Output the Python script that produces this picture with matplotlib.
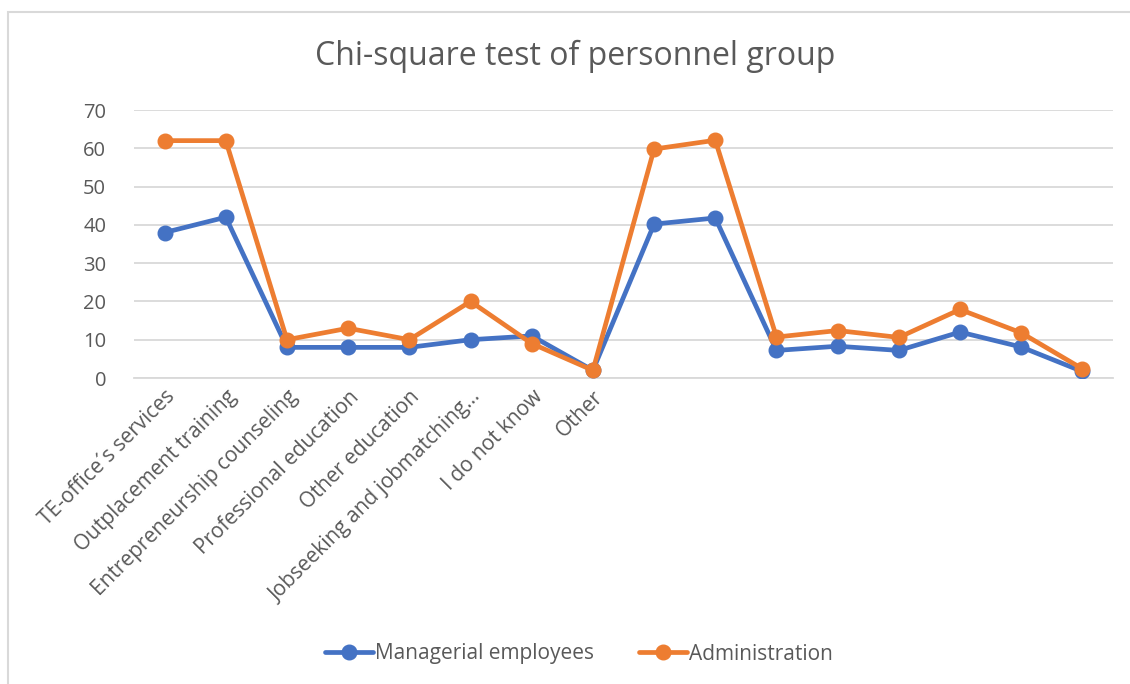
import numpy as np
import matplotlib.pyplot as plt
from matplotlib.patches import Rectangle

# data
categories = ['TE-office\u00b4s services', 'Outplacement training', 'Entrepreneurship counseling',
              'Professional education', 'Other education', 'Jobseeking and jobmatching...',
              'I do not know', 'Other', '', '', '', '', '', '', '', '']
managerial = [38, 42, 8, 8, 8, 10, 11, 2, 40.2, 41.8, 7.2, 8.3, 7.2, 12, 8.1, 1.7]
administration = [62, 62, 10, 13, 10, 20, 9, 2, 59.8, 62.1, 10.7, 12.4, 10.6, 17.9, 11.8, 2.4]
yticks = [0, 10, 20, 30, 40, 50, 60, 70]

blue = '#4472C4'
orange = '#ED7D31'
grey_txt = '#595959'
plt.rcParams['font.family'] = ['Open Sans', 'DejaVu Sans']

W, H = 1130, 684
fig = plt.figure(figsize=(W / 100, H / 100), dpi=100)

# outer chart border (partly cut off at right/bottom)
fig.add_artist(Rectangle((8 / W, -0.1), 1.2, 1 - 12 / H + 0.1, transform=fig.transFigure,
                         fill=False, edgecolor='#D9D9D9', linewidth=1.5))

ax = fig.add_axes([134 / W, (H - 378) / H, (1113 - 134) / W, (378 - 110) / H])
x = np.arange(len(categories))
ax.plot(x, managerial, color=blue, lw=3.4, marker='o', ms=10.5, label='Managerial employees',
        solid_capstyle='round', solid_joinstyle='round', zorder=3)
ax.plot(x, administration, color=orange, lw=3.4, marker='o', ms=10.5, label='Administration',
        solid_capstyle='round', solid_joinstyle='round', zorder=4)

ax.set_xlim(-0.5, len(categories) - 0.5)
ax.set_ylim(0, 70)
ax.set_yticks(yticks)
ax.set_yticklabels([str(v) for v in yticks], fontsize=14.5, color=grey_txt)
ax.yaxis.grid(True, color='#D9D9D9', lw=1.3)
ax.set_axisbelow(True)
ax.tick_params(axis='both', length=0)
ax.tick_params(axis='y', pad=20)
for s in ['top', 'right', 'left']:
    ax.spines[s].set_visible(False)
ax.spines['bottom'].set_color('#D9D9D9')
ax.spines['bottom'].set_linewidth(1.3)

ax.set_xticks(x)
ax.set_xticklabels(categories, rotation=45, ha='right', va='top', rotation_mode='anchor',
                   fontsize=15, color=grey_txt)
ax.tick_params(axis='x', pad=6)

fig.text(575 / W, 1 - 56 / H, 'Chi-square test of personnel group', ha='center', va='center',
         fontsize=23, color=grey_txt)

fig.legend(loc='center', bbox_to_anchor=(579 / W, 1 - 654 / H), ncol=2, frameon=False,
           fontsize=15, labelcolor=grey_txt, handlelength=2.3, handletextpad=0.1,
           columnspacing=2.2)

fig.savefig('out.png', dpi=100)
